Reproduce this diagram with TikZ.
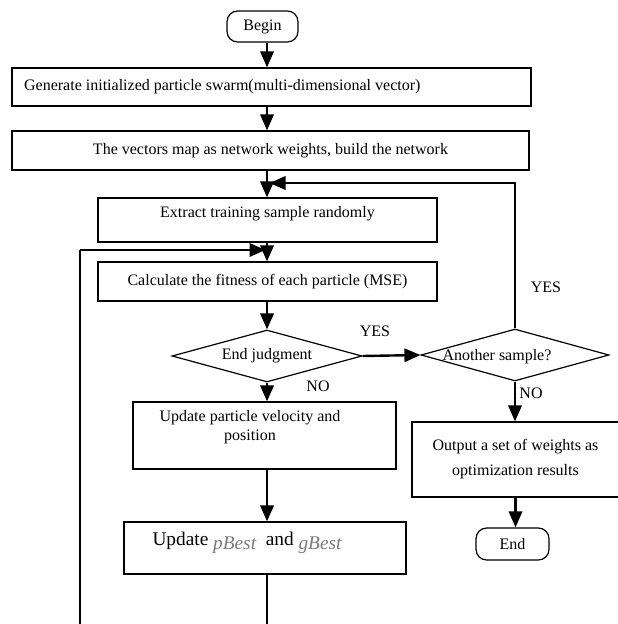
\documentclass[tikz,border=0pt]{standalone}
\usepackage{fontspec}
\setmainfont{Liberation Serif}
\usepackage{xcolor}
\usetikzlibrary{shapes.geometric,arrows.meta}
\definecolor{vargray}{HTML}{7A7A7A}
\newcommand{\varname}[1]{\raisebox{-3.5pt}{\textcolor{vargray}{\itshape #1}}}
\tikzset{
  box/.style={draw, line width=0.9pt, inner sep=2pt},
  term/.style={draw, rounded corners=8pt, line width=0.9pt},
  dec/.style={draw, diamond, aspect=3.6, inner sep=0pt, line width=0.9pt},
  arr/.style={line width=1.8pt, -{Triangle[length=12pt,width=10pt]}},
  thinln/.style={line width=0.9pt},
  lab/.style={font=\fontsize{12}{14.25}\selectfont},
  biglab/.style={font=\fontsize{14.5}{17}\selectfont}
}

\begin{document}
\begin{tikzpicture}[x=0.75pt,y=-0.75pt]
  \useasboundingbox (0,0) rectangle (617,624);
  \coordinate (ax) at (267,0); % main vertical axis

  % main column
  \node[term,lab,minimum width=53.25pt,minimum height=23.25pt] (begin) at (262.5,26.5) {Begin};
  \node[box,minimum width=389.25pt,minimum height=28.5pt,
    label={[lab,anchor=west,xshift=6pt]west:Generate initialized particle swarm(multi-dimensional vector)}] (gen) at (271.5,87) {};
  \node[box,lab,minimum width=387.75pt,minimum height=29.25pt] (map) at (270.5,150.5) {The vectors map as network weights, build the network};
  \node[box,minimum width=254.25pt,minimum height=33pt,
    label={[lab,yshift=4.5pt]center:Extract training sample randomly}] (extr) at (267.5,220) {};
  \node[box,lab,minimum width=254.25pt,minimum height=29.25pt] (fit) at (267.5,281.5) {Calculate the fitness of each particle (MSE)};
  \node[dec,lab,minimum width=142.5pt,minimum height=39pt] (judge) at (267,356) {End judgment};
  \node[box,minimum width=197.25pt,minimum height=50.25pt,
    label={[lab,align=center,xshift=-10.9pt,yshift=6pt]center:Update particle velocity and\\position}] (vel) at (264.5,435.5) {};
  \node[box,minimum width=211.5pt,minimum height=39pt,
    label={[biglab,xshift=-13.5pt,yshift=3.75pt]center:Update~\varname{pBest}~~and~\varname{gBest}}] (best) at (265,548) {};

  % right column
  \node[dec,minimum width=141pt,minimum height=39pt,
    label={[lab,xshift=-13.5pt,yshift=-1pt]center:Another sample?}] (another) at (515,355) {};
  \node[box,align=center,font=\fontsize{12}{18.75}\selectfont,minimum width=155.25pt,minimum height=56.25pt] (out) at (515.5,459.5) {Output a set of weights as\\optimization results};
  \node[term,lab,minimum width=54.75pt,minimum height=24pt] (endn) at (512.5,544) {End};

  % branch labels
  \node[lab] (yes1) at (375,331) {YES};
  \node[lab] (yes2) at (546,287) {YES};
  \node[lab] (no1) at (318,386) {NO};
  \node[lab] (no2) at (531,393) {NO};

  % loop ends
  \coordinate (ltip) at (269.5,183);
  \coordinate (lb) at (80,630);
  \coordinate (lc) at (80,250);
  \coordinate (lf) at (265.5,250);
  \coordinate (bb) at (267,630);

  % connectors
  \draw[arr] (begin.south -| ax) -- (gen.north -| ax);
  \draw[arr] (gen.south -| ax) -- (map.north -| ax);
  \draw[arr] (map.south -| ax) -- (extr.north -| ax);
  \draw[arr] (extr.south -| ax) -- (fit.north -| ax);
  \draw[arr] (fit.south -| ax) -- (judge.north);
  \draw[arr] (judge.east) -- (another.west);
  \draw[arr] (judge.south) -- (vel.north -| judge.south);
  \draw[arr] (vel.south -| ax) -- (best.north -| ax);
  \draw[thinln] (best.south -| ax) -- (bb);
  \draw[arr] (another.north) |- (ltip);
  \draw[arr] (another.south) -- (out.north -| another.south);
  \draw[arr] (out.south) -- (out.south |- endn.north);
  \draw[thinln] (lb) -- (lc);
  \draw[arr] (lc) -- (lf);
\end{tikzpicture}
\end{document}
